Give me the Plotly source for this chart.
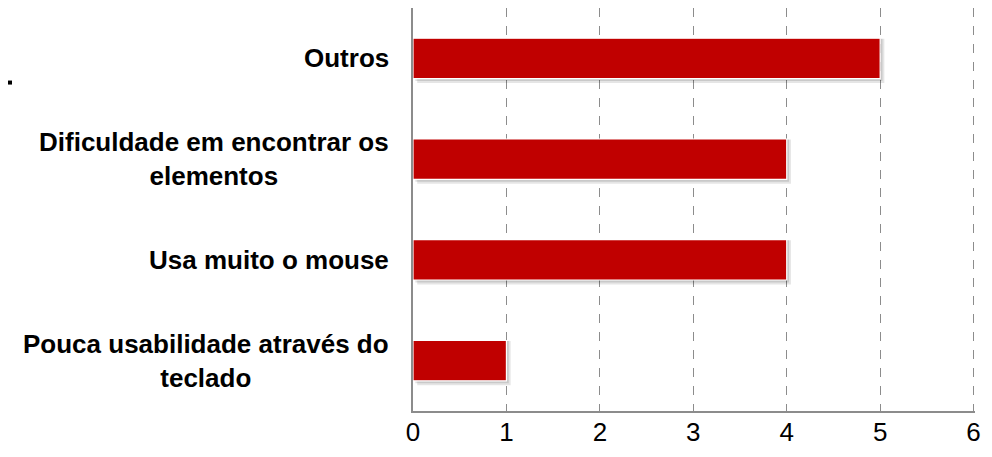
import plotly.graph_objects as go

# data (top to bottom as in the chart)
categories = [
    'Outros',
    'Dificuldade em encontrar os<br>elementos',
    'Usa muito o mouse',
    'Pouca usabilidade através do<br>teclado',
]
values = [5, 4, 4, 1]
x_ticks = [0, 1, 2, 3, 4, 5, 6]

bar_color = '#C00000'
grid_color = '#8C8C8C'
font_family = 'Arial, Liberation Sans, sans-serif'

fig = go.Figure()

# soft drop shadow under each bar (two faint layers)
for shade, off, wd, shift in [('rgba(0,0,0,0.10)', -0.245, 0.44, 0.045),
                              ('rgba(0,0,0,0.12)', -0.225, 0.42, 0.025)]:
    fig.add_trace(go.Bar(
        x=values,
        y=categories,
        orientation='h',
        base=shift,
        width=wd,
        offset=off,
        marker=dict(color=shade, line=dict(width=0)),
        hoverinfo='skip',
        showlegend=False,
    ))

# main bars
fig.add_trace(go.Bar(
    x=values,
    y=categories,
    orientation='h',
    width=0.4,
    marker=dict(color=bar_color, line=dict(color='white', width=1.2)),
    showlegend=False,
))

# category labels as centred annotations
for cat in categories:
    fig.add_annotation(
        x=0, xref='paper', y=cat, yref='y',
        text=cat, showarrow=False,
        xanchor='right', yanchor='middle', xshift=-22,
        align='center',
        font=dict(family=font_family, size=26, color='black', weight='bold'),
    )

# small stray mark at the left edge
fig.add_shape(type='rect', xref='paper', yref='paper',
              x0=-0.7206, x1=-0.7135, y0=0.81, y1=0.82,
              fillcolor='black', line=dict(width=0))

fig.update_layout(
    width=984, height=441,
    margin=dict(l=405, r=17, t=0, b=38),
    plot_bgcolor='white',
    paper_bgcolor='white',
    barmode='overlay',
    font=dict(family=font_family, color='black'),
)

fig.update_xaxes(
    range=[0, 6.015],
    tickvals=x_ticks,
    ticks='',
    ticklabelstandoff=-3,
    tickfont=dict(size=26, color='black'),
    showgrid=True, gridcolor=grid_color, griddash='dash', gridwidth=1.3,
    showline=True, linecolor=grid_color, linewidth=1.5,
    zeroline=False,
    automargin=False,
)
fig.update_yaxes(
    categoryorder='array',
    categoryarray=categories[::-1],
    showticklabels=False,
    ticks='',
    showgrid=False,
    showline=True, linecolor=grid_color, linewidth=1.5,
    zeroline=False,
    automargin=False,
)

fig.write_html('out.html')
